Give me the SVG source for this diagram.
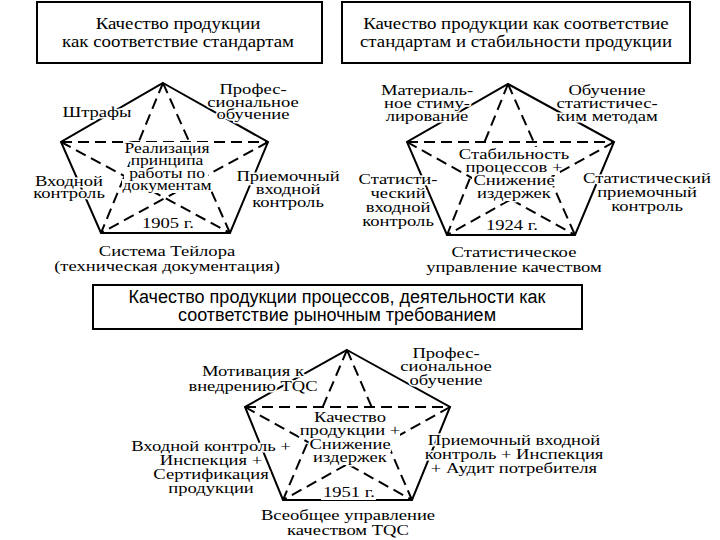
<svg xmlns="http://www.w3.org/2000/svg" width="720" height="540" viewBox="0 0 720 540">
<style>
.bg{fill:#fff}
.box{fill:#fff;stroke:#000;stroke-width:2}
.edge{fill:none;stroke:#000;stroke-width:2;stroke-linejoin:miter}
.star{fill:none;stroke:#000;stroke-width:2;stroke-dasharray:11 6}
.ttl{font-family:"Liberation Serif","Times New Roman",serif;font-size:16px;fill:#000;text-anchor:middle}
.ttls{font-family:"Liberation Sans",Arial,sans-serif;font-size:18px;fill:#000;text-anchor:middle}
.lbl{font-family:"Liberation Serif","Times New Roman",serif;font-size:15px;fill:#000;text-anchor:middle;stroke:#fff;stroke-width:3;paint-order:stroke;stroke-linejoin:round}
.ctr{font-size:14px}
</style>
<rect class="bg" x="0" y="0" width="720" height="540"/>

<g id="connectors">
  <g id="pent1">
    <polygon class="edge" points="163,83 268,142 230,233 101,233 61,142"/>
    <path class="star" d="M163,83 L101,233 M163,83 L230,233 M61,142 L268,142 M61,142 L230,233 M268,142 L101,233"/>
  </g>
  <g id="pent2">
    <polygon class="edge" points="508,84 614,142 575,235 447,235 407,142"/>
    <path class="star" d="M508,84 L447,235 M508,84 L575,235 M407,142 L614,142 M407,142 L575,235 M614,142 L447,235"/>
  </g>
  <g id="pent3">
    <polygon class="edge" points="347,350 450,407 412,500 283,500 245,407"/>
    <path class="star" d="M347,350 L283,500 M347,350 L412,500 M245,407 L450,407 M245,407 L412,500 M450,407 L283,500"/>
  </g>
</g>

<g id="title1">
  <rect class="box" x="37" y="2" width="285" height="61"/>
  <text class="ttl" transform="translate(178,29) scale(1.18,1)"><tspan x="0" y="0">Качество продукции</tspan><tspan x="0" dy="18">как соответствие стандартам</tspan></text>
</g>
<g id="title2">
  <rect class="box" x="342" y="2" width="348" height="61"/>
  <text class="ttl" transform="translate(516,29) scale(1.18,1)"><tspan x="0" y="0">Качество продукции как соответствие</tspan><tspan x="0" dy="18">стандартам и стабильности продукции</tspan></text>
</g>
<g id="title3">
  <rect class="box" x="93" y="285" width="489" height="44"/>
  <text class="ttls"><tspan x="337" y="303">Качество продукции процессов, деятельности как</tspan><tspan x="337" y="321">соответствие рыночным требованием</tspan></text>
</g>

<g id="p1-shtrafy"><text class="lbl" transform="translate(97,117) scale(1.24,1)"><tspan x="0" y="0">Штрафы</tspan></text></g>
<g id="p1-prof"><text class="lbl" transform="translate(253,94) scale(1.24,1)"><tspan x="0" y="0">Профес-</tspan><tspan x="0" dy="12.5">сиональное</tspan><tspan x="0" dy="12.5">обучение</tspan></text></g>
<g id="p1-vhod"><text class="lbl" transform="translate(69,186) scale(1.24,1)"><tspan x="0" y="0">Входной</tspan><tspan x="0" dy="12">контроль</tspan></text></g>
<g id="p1-priem"><text class="lbl" transform="translate(288,181) scale(1.24,1)"><tspan x="0" y="0">Приемочный</tspan><tspan x="0" dy="13">входной</tspan><tspan x="0" dy="13">контроль</tspan></text></g>
<g id="p1-center">
  <rect class="bg" x="126" y="142" width="83" height="14"/>
  <rect class="bg" x="131" y="154" width="75" height="15"/>
  <rect class="bg" x="124" y="167" width="84" height="14"/>
  <rect class="bg" x="122" y="179" width="89" height="14"/>
  <text class="lbl ctr" transform="translate(167,153) scale(1.25,1)"><tspan x="0" y="0">Реализация</tspan><tspan x="0" dy="12.3">принципа</tspan><tspan x="0" dy="12.3">работы по</tspan><tspan x="0" dy="12.3">документам</tspan></text>
</g>
<g id="p1-year">
  <rect class="bg" x="141" y="216" width="55" height="14"/>
  <text class="lbl" transform="translate(168,228) scale(1.24,1)"><tspan x="0" y="0">1905 г.</tspan></text>
</g>
<g id="p1-bottom"><text class="lbl" transform="translate(167,256) scale(1.24,1)"><tspan x="0" y="0">Система Тейлора</tspan><tspan x="0" dy="15.5">(техническая документация)</tspan></text></g>

<g id="p2-mat"><text class="lbl" transform="translate(427,95) scale(1.24,1)"><tspan x="0" y="0">Материаль-</tspan><tspan x="0" dy="13">ное стиму-</tspan><tspan x="0" dy="13">лирование</tspan></text></g>
<g id="p2-obuch"><text class="lbl" transform="translate(607,95) scale(1.24,1)"><tspan x="0" y="0">Обучение</tspan><tspan x="0" dy="13">статистичес-</tspan><tspan x="0" dy="13">ким методам</tspan></text></g>
<g id="p2-center">
  <rect class="bg" x="457" y="147" width="112" height="15"/>
  <rect class="bg" x="470" y="160" width="86" height="15"/>
  <rect class="bg" x="472" y="173" width="79" height="15"/>
  <rect class="bg" x="476" y="186" width="74" height="15"/>
  <text class="lbl" transform="translate(514,159) scale(1.24,1)"><tspan x="0" y="0">Стабильность</tspan><tspan x="0" dy="13">процессов +</tspan><tspan x="0" dy="13">Снижение</tspan><tspan x="0" dy="13">издержек</tspan></text>
</g>
<g id="p2-vhod"><text class="lbl" transform="translate(398,184) scale(1.24,1)"><tspan x="0" y="0">Статисти-</tspan><tspan x="0" dy="14">ческий</tspan><tspan x="0" dy="14">входной</tspan><tspan x="0" dy="14">контроль</tspan></text></g>
<g id="p2-priem"><text class="lbl" transform="translate(647,183) scale(1.24,1)"><tspan x="0" y="0">Статистический</tspan><tspan x="0" dy="14">приемочный</tspan><tspan x="0" dy="14">контроль</tspan></text></g>
<g id="p2-year">
  <rect class="bg" x="486" y="218" width="52" height="14"/>
  <text class="lbl" transform="translate(512,230) scale(1.24,1)"><tspan x="0" y="0">1924 г.</tspan></text>
</g>
<g id="p2-bottom"><text class="lbl" transform="translate(514,257) scale(1.24,1)"><tspan x="0" y="0">Статистическое</tspan><tspan x="0" dy="15.5">управление качеством</tspan></text></g>

<g id="p3-motiv"><text class="lbl" transform="translate(253,376) scale(1.24,1)"><tspan x="0" y="0">Мотивация к</tspan><tspan x="0" dy="15">внедрению TQC</tspan></text></g>
<g id="p3-prof"><text class="lbl" transform="translate(446,358) scale(1.24,1)"><tspan x="0" y="0">Профес-</tspan><tspan x="0" dy="13.5">сиональное</tspan><tspan x="0" dy="13.5">обучение</tspan></text></g>
<g id="p3-center">
  <rect class="bg" x="313" y="410" width="70" height="15"/>
  <rect class="bg" x="302" y="423" width="98" height="15"/>
  <rect class="bg" x="311" y="437" width="80" height="15"/>
  <rect class="bg" x="313" y="450" width="75" height="15"/>
  <text class="lbl" transform="translate(350,422) scale(1.24,1)"><tspan x="0" y="0">Качество</tspan><tspan x="0" dy="13.4">продукции +</tspan><tspan x="0" dy="13.4">Снижение</tspan><tspan x="0" dy="13.4">издержек</tspan></text>
</g>
<g id="p3-vhod"><text class="lbl" transform="translate(211,451) scale(1.24,1)"><tspan x="0" y="0">Входной контроль +</tspan><tspan x="0" dy="14">Инспекция +</tspan><tspan x="0" dy="14">Сертификация</tspan><tspan x="0" dy="14">продукции</tspan></text></g>
<g id="p3-priem"><text class="lbl" transform="translate(514,445) scale(1.24,1)"><tspan x="0" y="0">Приемочный входной</tspan><tspan x="0" dy="14">контроль + Инспекция</tspan><tspan x="0" dy="14">+ Аудит потребителя</tspan></text></g>
<g id="p3-year">
  <rect class="bg" x="321" y="486" width="55" height="14"/>
  <text class="lbl" transform="translate(349,497) scale(1.24,1)"><tspan x="0" y="0">1951 г.</tspan></text>
</g>
<g id="p3-bottom"><text class="lbl" transform="translate(348,520) scale(1.24,1)"><tspan x="0" y="0">Всеобщее управление</tspan><tspan x="0" dy="15">качеством TQC</tspan></text></g>
</svg>
